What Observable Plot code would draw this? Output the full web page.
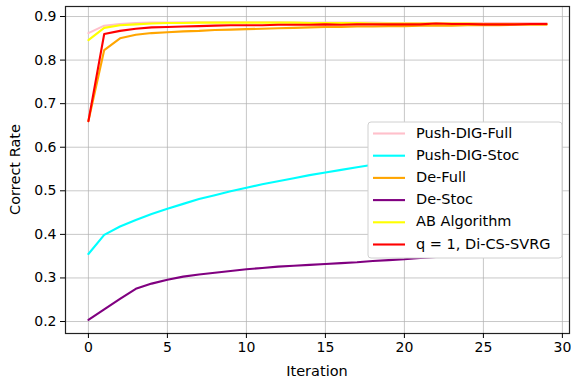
<!DOCTYPE html>
<html>
<head>
<meta charset="utf-8">
<script src="https://cdn.jsdelivr.net/npm/d3@7"></script>
<script src="https://cdn.jsdelivr.net/npm/@observablehq/plot@0.6"></script>
<style>
  html, body { margin: 0; padding: 0; background: #fff; }
  #chart { width: 571px; height: 381px; }
</style>
</head>
<body>
<div id="chart"></div>
<script>
const iterations = d3.range(0, 30);
const seriesNames = ["Push-DIG-Full", "Push-DIG-Stoc", "De-Full", "De-Stoc", "AB Algorithm", "q = 1, Di-CS-SVRG"];
const seriesColors = ["#ffc0cb", "#00ffff", "#ffa500", "#800080", "#ffff00", "#ff0000"];

const pushDigFull = [0.862, 0.879, 0.883, 0.885, 0.886, 0.886, 0.887, 0.887, 0.887, 0.887, 0.887, 0.887, 0.887, 0.886, 0.886, 0.886, 0.886, 0.886, 0.886, 0.885, 0.885, 0.885, 0.885, 0.885, 0.885, 0.885, 0.885, 0.885, 0.885, 0.885];
const pushDigStoc = [0.355, 0.399, 0.418, 0.433, 0.447, 0.459, 0.470, 0.481, 0.490, 0.499, 0.507, 0.515, 0.522, 0.529, 0.536, 0.542, 0.548, 0.554, 0.560, 0.565, 0.570, 0.575, 0.580, 0.585, 0.590, 0.594, 0.598, 0.602, 0.606, 0.610];
const deFull = [0.660, 0.823, 0.850, 0.858, 0.862, 0.864, 0.866, 0.867, 0.869, 0.870, 0.871, 0.872, 0.873, 0.874, 0.875, 0.876, 0.876, 0.877, 0.877, 0.878, 0.878, 0.879, 0.879, 0.879, 0.880, 0.880, 0.880, 0.881, 0.881, 0.881];
const deStoc = [0.204, 0.228, 0.252, 0.275, 0.287, 0.296, 0.303, 0.308, 0.312, 0.316, 0.320, 0.323, 0.326, 0.328, 0.330, 0.332, 0.334, 0.336, 0.339, 0.341, 0.343, 0.346, 0.348, 0.350, 0.352, 0.353, 0.354, 0.355, 0.356, 0.357];
const abAlgorithm = [0.846, 0.874, 0.880, 0.882, 0.884, 0.885, 0.885, 0.886, 0.886, 0.886, 0.886, 0.886, 0.886, 0.886, 0.885, 0.885, 0.885, 0.885, 0.884, 0.884, 0.884, 0.884, 0.884, 0.884, 0.884, 0.883, 0.883, 0.883, 0.883, 0.883];
const diCsSvrg = [0.660, 0.860, 0.867, 0.872, 0.875, 0.876, 0.877, 0.878, 0.879, 0.880, 0.880, 0.880, 0.881, 0.881, 0.881, 0.882, 0.881, 0.882, 0.882, 0.882, 0.882, 0.882, 0.884, 0.883, 0.883, 0.882, 0.882, 0.882, 0.883, 0.883];

const xTicks = [0, 5, 10, 15, 20, 25, 30];
const yTicks = [0.2, 0.3, 0.4, 0.5, 0.6, 0.7, 0.8, 0.9];

const allSeries = [pushDigFull, pushDigStoc, deFull, deStoc, abAlgorithm, diCsSvrg];
const rows = [];
allSeries.forEach((vals, si) => {
  vals.forEach((v, i) => rows.push({series: seriesNames[si], x: iterations[i], y: v}));
});

const W = 571, H = 381;
const mL = 65, mR = 2, mT = 6, mB = 48;

const plot = Plot.plot({
  width: W,
  height: H,
  marginLeft: mL,
  marginRight: mR,
  marginTop: mT,
  marginBottom: mB,
  style: {fontFamily: "DejaVu Sans, sans-serif", fontSize: "14px", color: "#000", background: "#fff", overflow: "visible"},
  x: {domain: [-1.45, 30.45]},
  y: {domain: [0.1725, 0.923]},
  color: {domain: seriesNames, range: seriesColors},
  marks: [
    Plot.gridX(xTicks, {stroke: "#b0b0b0", strokeOpacity: 0.7, strokeWidth: 1}),
    Plot.gridY(yTicks, {stroke: "#b0b0b0", strokeOpacity: 0.7, strokeWidth: 1}),
    Plot.lineY(rows, {x: "x", y: "y", z: "series", stroke: "series", strokeWidth: 2.1, curve: "linear"}),
    Plot.frame({stroke: "#222", strokeWidth: 1.2}),
    Plot.axisX(xTicks, {tickSize: 5, tickPadding: 4, label: null, fontSize: 14, tickFormat: d3.format("d")}),
    Plot.axisY(yTicks, {tickSize: 5, tickPadding: 4, label: null, fontSize: 14, tickFormat: d3.format(".1f")})
  ]
});

document.getElementById("chart").appendChild(plot);

const svg = d3.select(plot);
// axis titles
svg.append("text")
  .attr("x", mL + (W - mL - mR) / 2)
  .attr("y", 372)
  .attr("text-anchor", "middle")
  .attr("dominant-baseline", "middle")
  .style("font-size", "14.5px")
  .text("Iteration");
svg.append("text")
  .attr("transform", `translate(16, ${mT + (H - mT - mB) / 2}) rotate(-90)`)
  .attr("text-anchor", "middle")
  .attr("dominant-baseline", "middle")
  .style("font-size", "14.5px")
  .text("Correct Rate");

// legend
const lg = svg.append("g");
lg.append("rect")
  .attr("x", 368).attr("y", 122)
  .attr("width", 194).attr("height", 136)
  .attr("rx", 3)
  .attr("fill", "#fff")
  .attr("stroke", "#d0d0d0")
  .attr("stroke-width", 1);
seriesNames.forEach((name, i) => {
  const cy = 133.5 + i * 22.2;
  lg.append("line")
    .attr("x1", 373).attr("x2", 405)
    .attr("y1", cy).attr("y2", cy)
    .attr("stroke", seriesColors[i])
    .attr("stroke-width", 2.1);
  lg.append("text")
    .attr("x", 416).attr("y", cy)
    .attr("text-anchor", "start")
    .attr("dominant-baseline", "middle")
    .style("font-size", "14.5px")
    .text(name);
});
</script>
</body>
</html>
